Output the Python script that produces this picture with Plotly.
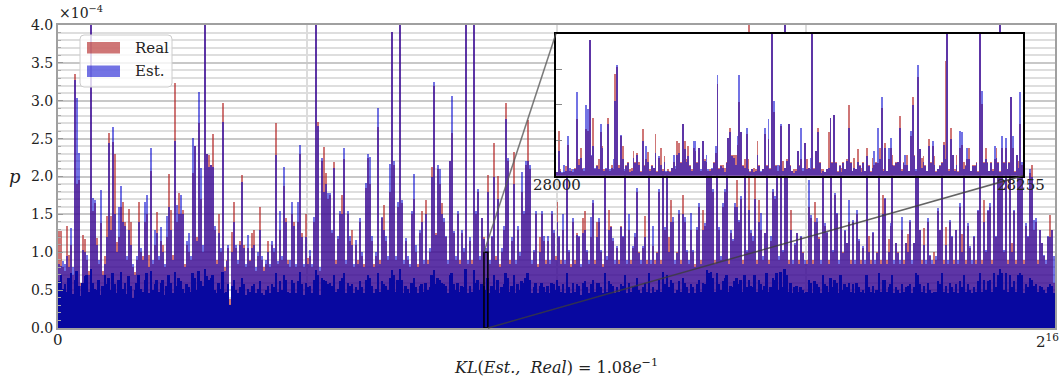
import numpy as np
import plotly.graph_objects as go

# ---------------- data (values in units of 1e-6; shown in units of 1e-4) ----------------
N_TOTAL = 65536          # 2^16 bins
N_MAIN = 500             # displayed columns of the overview
INSET_FIRST, INSET_LAST = 28000, 28255
INSET_YMAX = 1.0         # x1e-4

main_real = [
 128,128,80,75,135,97,110,70,335,190,195,60,123,117,90,75,410,155,165,119,85,139,75,95,148,
 258,148,245,230,114,120,160,167,140,90,157,140,80,74,90,166,100,95,140,150,97,207,85,110,153,
 90,115,110,80,120,203,156,97,323,140,178,150,156,85,110,100,90,205,240,120,271,170,100,410,230,
 228,215,256,130,90,150,100,297,80,90,105,38,127,166,105,85,115,202,110,80,105,90,125,129,75,
 95,160,90,80,85,115,80,110,100,271,85,130,90,187,145,90,80,150,140,80,140,230,125,80,150,
 92,95,80,140,410,272,75,220,239,204,170,175,125,219,90,118,150,176,223,85,150,115,130,80,110,
 90,140,95,85,185,225,190,115,85,95,266,90,145,162,115,90,180,391,215,90,160,410,165,85,115,
 90,80,150,170,100,85,125,155,85,169,90,100,213,320,125,210,190,165,140,120,85,220,257,125,90,
 150,90,125,100,410,85,115,90,410,150,180,90,145,120,100,202,85,120,244,95,201,85,100,130,297,
 220,90,115,232,85,130,95,180,150,215,275,210,85,100,150,85,120,150,115,90,115,85,150,125,95,
 166,120,90,130,85,230,100,85,140,90,125,120,80,145,155,100,85,120,165,90,140,140,100,85,240,
 90,156,135,115,85,105,90,135,120,225,85,130,90,105,120,180,100,85,105,148,90,235,85,108,90,
 100,180,90,240,130,225,120,169,140,85,100,150,90,176,140,100,85,130,100,85,130,160,90,156,135,
 250,235,255,180,90,245,130,90,160,180,235,90,125,115,160,196,140,170,90,240,100,410,125,115,240,
 90,169,130,90,125,240,90,115,180,170,245,90,250,100,410,240,90,156,85,110,125,90,120,100,85,
 90,160,145,90,167,140,120,85,230,135,125,90,245,100,175,150,85,235,100,128,112,140,90,140,85,
 150,115,90,105,85,240,121,90,125,85,100,240,90,176,170,90,117,135,250,85,112,100,85,130,90,
 112,124,140,85,112,240,235,130,90,132,85,140,95,85,100,90,155,130,240,90,134,85,140,120,90,
 130,85,160,124,240,90,135,105,85,120,90,155,240,90,169,100,155,160,90,245,120,235,410,240,100,
 245,90,240,112,155,90,240,245,235,90,135,120,205,215,130,140,90,130,112,95,85,120,149,130,60,
]
main_est = [
 85,82,88,85,95,80,132,80,328,303,231,55,103,100,97,70,410,171,169,110,90,182,70,85,120,
 244,130,265,150,100,160,187,140,135,95,130,110,85,70,95,140,105,90,167,176,80,237,90,130,125,
 95,134,100,85,148,160,130,90,247,162,150,176,150,80,115,125,95,251,240,115,311,211,110,410,230,
 212,215,212,135,85,125,105,272,75,88,110,30,100,140,110,90,110,193,105,85,123,88,105,110,80,
 100,130,95,75,90,100,85,115,105,229,88,155,95,213,140,85,90,166,135,85,166,241,120,85,120,
 85,103,85,147,410,267,80,225,180,190,178,178,130,211,85,121,154,150,238,90,154,121,110,85,116,
 85,145,100,80,191,230,226,121,80,100,290,85,147,130,121,95,216,391,220,95,167,410,169,90,119,
 95,85,154,203,110,80,130,140,90,150,85,105,200,325,123,215,210,150,145,121,90,220,306,128,95,
 154,85,130,105,410,90,120,85,410,154,184,95,145,117,105,180,90,121,200,90,170,80,105,135,276,
 225,85,120,190,90,135,100,206,154,220,221,215,90,103,154,80,100,154,121,85,121,90,154,130,90,
 140,121,85,150,90,235,103,80,145,85,123,121,85,125,130,103,90,147,169,85,120,145,103,80,235,
 95,130,134,119,90,108,85,134,121,230,90,150,85,108,125,185,99,90,108,120,85,240,90,135,85,
 99,183,85,245,134,230,100,140,147,90,99,156,85,150,147,103,90,152,103,80,134,165,85,130,138,
 245,240,250,183,85,250,134,95,165,183,240,85,129,117,165,160,143,174,85,235,103,156,129,121,170,
 85,140,152,95,125,245,85,121,183,174,240,95,255,103,410,235,85,130,90,112,125,85,121,99,90,
 85,196,149,85,140,145,117,90,235,138,127,85,200,103,178,152,90,240,99,130,112,169,85,143,90,
 156,117,85,108,90,235,100,85,127,90,99,245,85,150,172,85,100,138,200,90,112,99,90,147,85,
 112,100,143,90,112,245,240,130,85,110,90,145,97,90,85,95,158,130,245,85,110,90,143,121,85,
 130,90,165,100,235,85,138,108,90,121,85,156,245,85,140,103,156,165,85,240,121,240,410,245,103,
 240,85,245,100,156,85,245,240,240,85,138,121,210,200,143,145,85,130,112,97,90,121,120,130,95,
]
# height up to which each displayed column is solidly filled by Est. bars (dark band)
main_est_solid = [
 62,70,52,58,48,66,72,45,64,75,55,42,60,68,70,48,78,60,52,50,64,44,55,70,58,
 66,50,72,58,46,64,74,52,60,45,68,56,40,50,60,70,52,48,64,72,46,75,50,58,64,
 48,60,64,44,56,70,60,46,74,56,66,62,52,46,58,54,48,72,66,50,75,62,55,78,68,
 64,66,70,50,46,60,52,74,46,48,58,30,56,64,50,46,54,66,58,44,52,48,56,58,46,
 52,62,46,44,50,56,46,58,54,72,48,62,50,70,64,48,46,64,60,46,62,74,58,44,60,
 54,56,46,64,76,70,44,66,64,62,58,60,56,70,48,52,62,66,72,46,60,56,58,46,54,
 50,62,54,46,64,70,66,56,46,52,72,48,62,58,56,50,66,76,70,48,64,78,64,46,56,
 52,46,60,66,54,46,56,58,48,60,50,54,70,76,58,66,64,60,58,56,46,70,72,58,50,
 60,48,56,54,78,46,56,48,76,60,64,50,58,56,50,66,46,56,70,50,64,46,54,58,72,
 66,48,56,70,46,58,50,62,60,66,72,64,46,54,60,46,56,60,54,48,56,46,60,58,50,
 64,56,48,58,46,72,54,46,60,48,58,56,44,60,62,54,46,58,64,48,60,60,54,46,72,
 48,62,58,56,46,54,48,58,56,70,46,60,48,54,56,66,50,46,54,60,48,72,46,54,48,
 50,64,48,74,58,70,54,64,60,46,50,62,48,66,60,54,46,58,54,46,58,64,48,60,58,
 76,72,74,66,48,72,58,50,62,66,70,48,56,54,62,66,58,64,48,70,54,64,56,54,70,
 48,64,58,50,56,72,48,54,66,64,72,50,74,54,78,70,48,60,46,54,56,48,54,50,46,
 48,64,60,46,62,58,54,46,70,58,56,48,66,54,64,60,46,70,50,58,54,60,48,58,46,
 60,54,48,50,46,70,54,48,56,46,50,72,48,64,64,48,54,58,70,46,54,50,46,58,48,
 54,56,58,46,54,72,70,58,48,56,46,60,50,46,48,48,62,58,72,48,56,46,60,54,48,
 58,46,62,54,70,48,58,50,46,54,48,62,72,48,64,50,62,64,48,72,54,70,78,72,50,
 72,48,70,54,62,48,70,72,70,46,58,54,66,64,56,58,48,56,54,50,46,54,58,56,46,
]

inset_real = [
 3,32,5,2,3,7,22,4,5,3,
 6,40,12,20,6,4,33,32,96,14,
 41,5,8,12,31,21,5,5,41,4,
 8,5,72,77,8,28,21,4,8,10,
 5,6,18,10,16,10,4,33,8,12,
 17,5,8,6,30,4,13,20,5,14,
 3,5,4,6,10,5,25,23,10,37,
 25,12,21,8,5,20,18,10,20,4,
 25,12,10,4,5,5,10,16,65,6,
 8,8,6,10,27,34,15,15,15,22,
 52,31,8,12,30,12,4,5,6,5,
 25,8,3,5,30,8,26,6,104,45,
 8,4,8,35,11,6,12,37,8,4,
 5,5,18,8,12,4,23,12,6,5,
 104,6,18,34,10,5,5,3,5,31,
 41,10,43,10,4,8,6,10,5,12,
 50,10,4,13,5,19,8,6,10,4,
 20,8,4,13,8,10,9,20,48,5,
 23,4,12,20,15,8,10,10,42,5,
 10,8,15,4,28,56,15,4,70,19,
 13,14,8,4,26,10,21,14,4,5,
 8,10,24,81,104,5,34,15,5,15,
 4,20,22,10,8,12,20,4,8,8,
 10,4,104,51,10,20,10,4,10,5,
 12,20,10,4,20,10,20,5,10,56,
 20,4,15,11,37,8,
]
inset_est = [
 3,18,4,3,8,4,28,6,4,5,
 5,59,8,13,5,6,50,47,96,15,
 21,6,7,5,37,20,4,6,37,5,
 6,12,53,78,6,29,12,5,7,9,
 3,4,13,9,15,8,3,25,7,21,
 10,4,7,6,16,3,14,8,4,10,
 4,4,3,6,15,7,15,16,9,37,
 19,10,14,7,4,25,25,9,20,5,
 25,11,15,5,4,6,9,21,71,5,
 7,6,3,9,27,31,14,13,8,28,
 71,31,7,6,34,5,3,5,3,4,
 15,7,4,5,34,7,40,5,104,53,
 7,8,7,37,4,6,11,37,7,4,
 2,4,18,7,34,6,23,5,6,13,
 104,5,18,31,9,2,4,3,5,6,
 41,9,43,9,3,7,3,9,5,11,
 34,9,4,6,5,10,7,3,9,4,
 14,7,3,6,18,9,34,12,56,4,
 20,4,20,27,8,7,9,10,34,4,
 9,15,8,4,32,50,14,5,78,19,
 6,10,7,4,21,9,25,8,3,5,
 7,9,22,12,104,4,26,15,4,8,
 3,32,31,5,7,20,12,4,7,7,
 9,3,104,60,9,12,9,4,9,4,
 21,13,9,3,28,9,27,5,9,56,
 28,3,15,6,59,10,
]

assert len(main_real) == N_MAIN and len(main_est) == N_MAIN and len(main_est_solid) == N_MAIN
assert len(inset_real) == INSET_LAST - INSET_FIRST + 1 == len(inset_est)

SCALE = 0.01   # 1e-6 -> 1e-4 units

# ---------------- styles ----------------
RED = "rgba(178,34,34,0.62)"
BLUE = "rgba(0,0,205,0.55)"
DARK = "rgb(8,8,160)"
FONT = "DejaVu Serif"

# layout geometry (pixels of the 1063x381 page)
W, H = 1063, 381
PL, PR, PT, PB = 58, 1055, 25, 328
def px(xp):
    return (xp - PL) / (PR - PL)
def py(yp):
    return (PB - yp) / (PB - PT)

binw = N_TOTAL / N_MAIN
xc = (np.arange(N_MAIN) + 0.5) * binw

fig = go.Figure()
fig.add_bar(x=xc, y=np.array(main_real) * SCALE, width=binw,
            marker=dict(color=RED, line=dict(width=0)), name="Real")
fig.add_bar(x=xc, y=np.array(main_est) * SCALE, width=binw,
            marker=dict(color=BLUE, line=dict(width=0)), name="Est.")
fig.add_bar(x=xc, y=np.array(main_est_solid) * SCALE, width=binw,
            marker=dict(color=DARK, line=dict(width=0)), name="Est. (dense)")

xi = np.arange(INSET_FIRST, INSET_LAST + 1)
fig.add_bar(x=xi, y=np.array(inset_real) * SCALE, width=1.0, xaxis="x2", yaxis="y2",
            marker=dict(color=RED, line=dict(width=0)))
fig.add_bar(x=xi, y=np.array(inset_est) * SCALE, width=1.0, xaxis="x2", yaxis="y2",
            marker=dict(color=BLUE, line=dict(width=0)))

ins_x = [px(556), px(1023)]
ins_y = [py(175.7), py(33.5)]

fig.update_layout(
    width=W, height=H,
    margin=dict(l=PL, r=W - PR, t=PT, b=H - PB, autoexpand=False),
    plot_bgcolor="white", paper_bgcolor="white",
    barmode="overlay", bargap=0, bargroupgap=0, showlegend=False,
    font=dict(family=FONT, size=14, color="#222"),
    xaxis=dict(domain=[0, 1], range=[0, N_TOTAL], automargin=False,
               tickvals=[0, N_TOTAL / 4, N_TOTAL / 2, 3 * N_TOTAL / 4, N_TOTAL],
               ticktext=["", "", "", "", ""], ticks="",
               showgrid=True, gridcolor="#dcdcdc", gridwidth=2, zeroline=False,
               showline=True, mirror=True, linecolor="#a0a0a0", linewidth=2),
    yaxis=dict(domain=[0, 1], range=[0, 4.0], tick0=0, dtick=0.5, tickformat=".1f",
               automargin=False,
               ticks="inside", ticklen=5, tickcolor="#999", tickfont=dict(size=14, color="#222"),
               showgrid=True, gridcolor="#c8c8c8", gridwidth=1.5, zeroline=False,
               minor=dict(dtick=0.1, showgrid=True, gridcolor="#dedede", gridwidth=1.5,
                          ticks="inside", ticklen=3, tickcolor="#aaa"),
               showline=True, mirror=True, linecolor="#a0a0a0", linewidth=2),
    xaxis2=dict(domain=ins_x, range=[INSET_FIRST - 0.5, INSET_LAST + 0.5], anchor="y2",
                automargin=False,
                showticklabels=False, ticks="", showgrid=False, zeroline=False,
                showline=True, mirror=True, linecolor="black", linewidth=1.5),
    yaxis2=dict(domain=ins_y, range=[0, INSET_YMAX], anchor="x2", automargin=False,
                tickvals=[0.25 * INSET_YMAX, 0.5 * INSET_YMAX, 0.75 * INSET_YMAX],
                showticklabels=False, ticks="inside", ticklen=6, tickcolor="#888",
                showgrid=False, zeroline=False,
                showline=True, mirror=True, linecolor="black", linewidth=1.5),
)

shapes = []
# zoom rectangle on the overview
shapes.append(dict(type="rect", xref="x", yref="y", x0=INSET_FIRST, x1=INSET_LAST + 1,
                   y0=0, y1=INSET_YMAX, line=dict(color="black", width=1.5), layer="above"))
# connector lines
shapes.append(dict(type="line", xref="paper", yref="paper",
                   x0=ins_x[0], y0=ins_y[1], x1=INSET_FIRST / N_TOTAL, y1=INSET_YMAX / 4.0,
                   line=dict(color="rgba(90,90,90,0.8)", width=1.5), layer="above"))
shapes.append(dict(type="line", xref="paper", yref="paper",
                   x0=ins_x[1], y0=ins_y[0], x1=(INSET_LAST + 1) / N_TOTAL, y1=0,
                   line=dict(color="rgba(60,60,60,0.8)", width=1.5), layer="above"))

# legend box (rounded)
x0, x1, y0, y1 = px(80), px(172), py(87), py(35)
rx, ry = 4 / (PR - PL), 4 / (PB - PT)
path = (f"M {x0+rx},{y0} L {x1-rx},{y0} Q {x1},{y0} {x1},{y0+ry} L {x1},{y1-ry} "
        f"Q {x1},{y1} {x1-rx},{y1} L {x0+rx},{y1} Q {x0},{y1} {x0},{y1-ry} "
        f"L {x0},{y0+ry} Q {x0},{y0} {x0+rx},{y0} Z")
shapes.append(dict(type="path", xref="paper", yref="paper", path=path,
                   fillcolor="rgba(255,255,255,0.8)", line=dict(color="#cccccc", width=1),
                   layer="above"))
shapes.append(dict(type="rect", xref="paper", yref="paper", x0=px(87), x1=px(120),
                   y0=py(53.5), y1=py(42), fillcolor=RED, line=dict(width=0), layer="above"))
shapes.append(dict(type="rect", xref="paper", yref="paper", x0=px(87), x1=px(120),
                   y0=py(77), y1=py(65.5), fillcolor=BLUE, line=dict(width=0), layer="above"))
fig.update_layout(shapes=shapes)

ann = []
def A(text, xp, yp, xanchor="center", size=14, **kw):
    ann.append(dict(text=text, x=px(xp), y=py(yp), xref="paper", yref="paper",
                    xanchor=xanchor, yanchor="middle", showarrow=False,
                    font=dict(family=FONT, size=size, color="#222"), **kw))

A("Real", 133, 48, xanchor="left", size=15)
A("Est.", 133, 71, xanchor="left", size=15)
A("×10<sup>−4</sup>", 57, 12, xanchor="left", size=14)
A("0", 58, 340, size=15)
A("2<sup>16</sup>", 1061, 341, xanchor="right", size=15)
A("28000", 557, 185, size=15)
A("28255", 1021, 185, size=15)
A("<i>KL</i>(<i>Est.,</i>  <i>Real</i>) = 1.08<i>e</i><sup>−1</sup>", 556, 366, size=16)
A("<i>p</i>", 15, 176, size=18)
fig.update_layout(annotations=ann)

fig.write_html("out.html", config={"displayModeBar": False},
               post_script="document.body.style.margin='0';document.body.style.padding='0';"
                           "document.documentElement.style.overflow='hidden';")
